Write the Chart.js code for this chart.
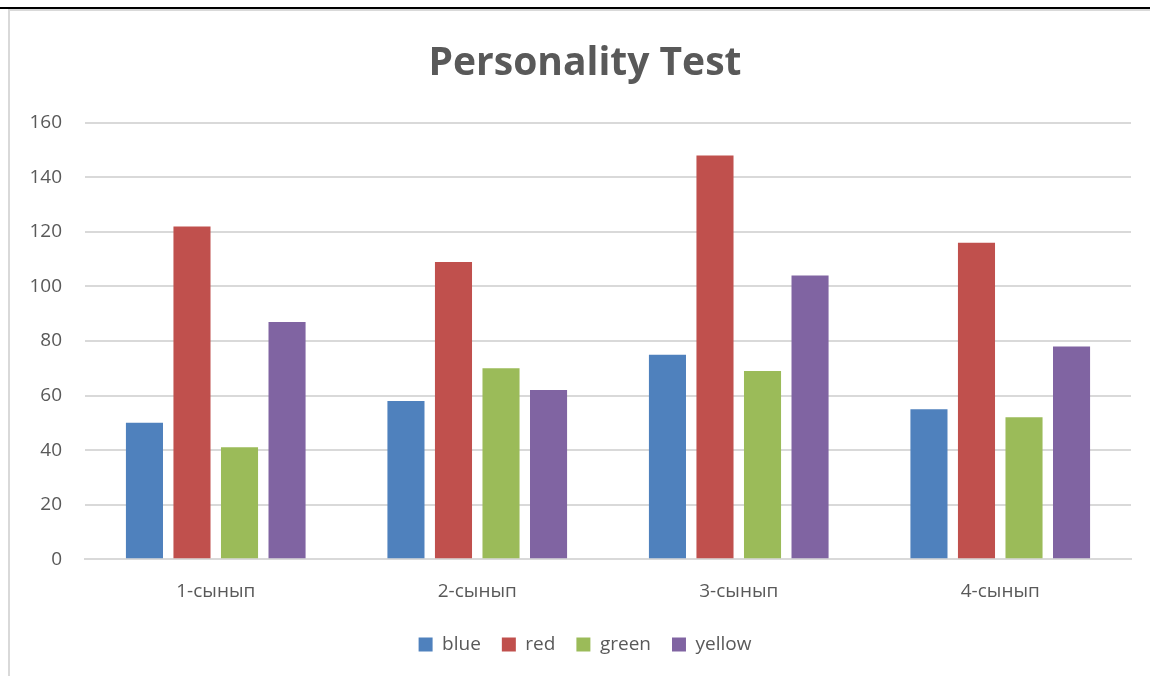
<!DOCTYPE html>
<html>
<head>
<meta charset="utf-8">
<script src="https://cdn.jsdelivr.net/npm/chart.js@4/dist/chart.umd.min.js"></script>
<style>
  html, body { margin: 0; padding: 0; background: #fff; }
  #wrap { position: absolute; left: 0; top: 0; width: 1150px; height: 676px; }
  #topline { position: absolute; left: 0; top: 7px; width: 1150px; height: 2px; background: #000; }
  #frame { position: absolute; left: 8px; top: 9px; width: 1150px; height: 680px; border-left: 2px solid #d9d9d9; border-top: 2px solid #d9d9d9; box-sizing: border-box; }
  #cv { position: absolute; left: 0; top: 0; }
</style>
</head>
<body>
<div id="wrap">
  <div id="frame"></div>
  <div id="topline"></div>
  <canvas id="cv" width="1150" height="676"></canvas>
</div>
<script>
const categories = ["1-сынып", "2-сынып", "3-сынып", "4-сынып"];
const blueValues = [50, 58, 75, 55];
const redValues = [122, 109, 148, 116];
const greenValues = [41, 70, 69, 52];
const yellowValues = [87, 62, 104, 78];
const seriesNames = ["blue", "red", "green", "yellow"];
const seriesColors = ["#4f81bd", "#c0504d", "#9bbb59", "#8064a2"];

const FONT = "'Open Sans', 'Liberation Sans', sans-serif";
const TXT = "#595959";

const allValues = [blueValues, redValues, greenValues, yellowValues];
const datasets = allValues.map((vals, i) => ({
  label: seriesNames[i],
  data: vals,
  backgroundColor: seriesColors[i],
  borderWidth: 0,
  categoryPercentage: 0.727,
  barPercentage: 0.78
}));

// let the y tick labels extend into the left padding instead of being clipped
const unclipY = {
  id: 'unclipY',
  afterLayout(chart) { chart.scales.y.left = 0; }
};

new Chart(document.getElementById('cv'), {
  type: 'bar',
  data: { labels: categories, datasets },
  plugins: [unclipY],
  options: {
    responsive: false,
    animation: false,
    layout: { padding: { left: 39, right: 19, top: 0, bottom: 12 } },
    plugins: {
      title: {
        display: true,
        text: 'Personality Test',
        color: TXT,
        font: { family: FONT, size: 39, weight: 'bold' },
        padding: { top: 40, bottom: 36 }
      },
      legend: {
        position: 'bottom',
        labels: {
          color: TXT,
          font: { family: FONT, size: 19 },
          boxWidth: 14,
          boxHeight: 14,
          padding: 21
        }
      },
      tooltip: { enabled: false }
    },
    scales: {
      x: {
        grid: { display: false, drawTicks: false },
        border: { color: '#d9d9d9', width: 2 },
        ticks: { color: TXT, font: { family: FONT, size: 19 }, padding: 21 },
        afterFit: (s) => { s.height -= 10; }
      },
      y: {
        min: 0,
        max: 160,
        ticks: { stepSize: 20, color: TXT, font: { family: FONT, size: 19 }, padding: 23 },
        grid: { color: '#d9d9d9', lineWidth: 2, drawTicks: false },
        border: { display: false },
        afterFit: (s) => { s.width = 46; }
      }
    }
  }
});
</script>
</body>
</html>
